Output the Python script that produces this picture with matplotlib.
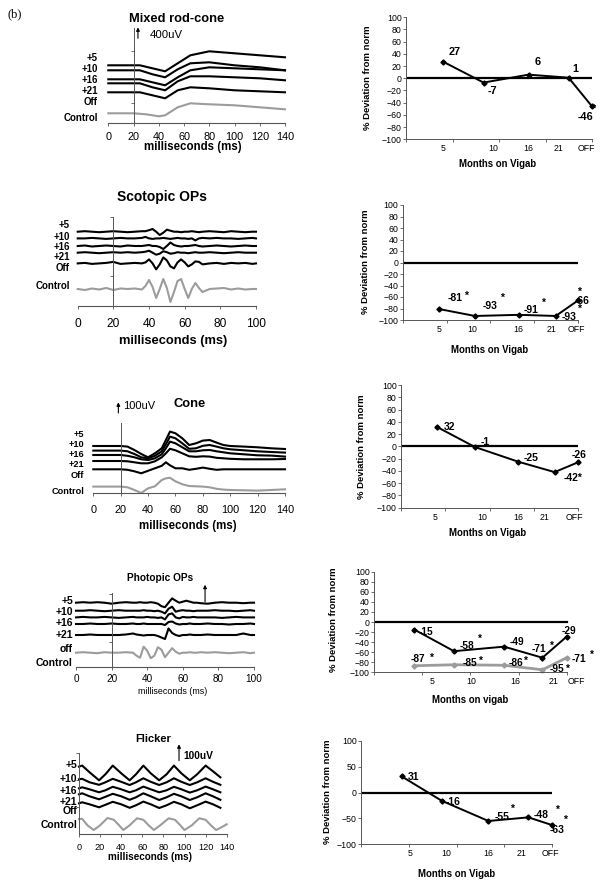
import numpy as np
import matplotlib
matplotlib.use("Agg")
import matplotlib.pyplot as plt

W, H = 604, 886
plt.rcParams['font.family'] = ['Liberation Sans', 'DejaVu Sans']
GREY = '#9c9c9c'
AX = '#555555'

# ---------------- left column: ERG traces (heights in px above the time axis) --------------
trace_labels = ['+5', '+10', '+16', '+21', 'Off', 'Control']

# Mixed rod-cone
mix_t = [0, 25, 35, 45, 55, 65, 80, 100, 120, 140]
mix_p5 = [58, 58, 55, 52, 60, 68, 72, 70, 68, 66]
mix_p10 = [53, 53, 49, 46, 54, 60, 61, 58, 56, 53]
mix_p16 = [44, 44, 41, 38, 46, 53, 56, 55, 54, 53]
mix_p21 = [40, 40, 36, 33, 42, 47, 47, 46, 45, 43]
mix_off = [31, 31, 28, 25, 33, 36, 35, 33, 32, 31]
mix_ctrl_t = [0, 20, 30, 40, 45, 50, 55, 65, 80, 100, 120, 140]
mix_ctrl = [10, 10, 9, 7, 8, 12, 16, 20, 19, 18, 16, 14]

# Scotopic OPs (baseline + deflection)
sop_t = [0, 4, 8, 12, 16, 20, 24, 28, 32, 36,
         38, 40, 42, 44, 46, 48, 50, 52, 54, 56, 58, 60, 62, 64, 66, 68, 70,
         74, 78, 82, 86, 90, 94, 98, 100]
sop_base = [74, 67.3, 59.7, 53, 42.3, 16.7]
sop_p5 = [0, 0.5, 0, -0.5, 0, 0.5, 0, -0.5, 0, 0.5,
          0.5, 1.5, 2.7, 0, -3.3, -1, 2, 1, 0, 0, -0.5, 0, 0, 0.5, 0, -0.5, 0,
          0.5, 0, -0.5, 0.5, 0, -0.5, 0, 0]
sop_p10 = [0, 0, 0.5, 0, -0.5, 0, 0.5, 0, 0, 0.5,
           1.5, 0, -0.5, 0, 0, 0.5, 0, -0.5, 0, 0.5, 0, 0, -0.5, 0, -2, 0, 0.5,
           0, 0.5, 0, 0, -0.5, 0, 0.5, 0]
sop_p16 = [0, 0.5, -0.5, 0, 0.5, 0, -0.5, 0.5, 0, 0,
           0.5, 1, 0, 0, -1, -3, 0, 3.5, 1, 0, -0.5, 0, 0, 0.5, 1, 0, -0.5,
           0, 0.5, 0, -0.5, 0, 0.5, 0, 0]
sop_p21 = [0, 0.5, 0, -0.5, 0, 0.5, 0, 0.5, 0, 0.5,
           1, 2, 0, -2, -1, 1.5, 0.5, -1, -0.5, 0.5, 0, 0, -0.5, 0, 0.5, 0, 0,
           0.5, 0, -0.5, 0, 0.5, 0, 0, 0]
sop_off = [0, 0.5, -0.5, 0, 0.5, 1.5, -0.5, 0, 0.5, 0,
           1, 4, 0, -6, -1, 6, 3, -3, -5, 1, 4, 1, -3, -1, 2, 1.5, -1,
           0, 0.5, -0.5, 0.5, 0, 0.5, -0.5, 0]
sop_ctrl = [0, -1, 0.5, -0.5, 1, -1, 0.5, 0, 0.5, -0.5,
            3, 9, 2, -9, 0, 10, 1, -13, -3, 8, 10, 0, -9, 0, 6, 1, -3,
            0, 0.5, 1, -0.5, 0.5, -0.5, 0, 0]

# Cone
cone_t = [0, 10, 20, 25, 30, 35, 40, 45, 50, 53, 56, 60, 65, 70, 75, 80, 85, 90, 95, 100, 110, 120, 130, 140]
cone_p5 = [47.3, 47.3, 47.3, 46.7, 43.3, 39.3, 36, 40, 45, 53.3, 61.7, 60, 55, 48.3, 50, 52.7, 53.3, 50.7, 48.3, 47.3, 46.7, 46, 45, 44.3]
cone_p10 = [42.7, 42.7, 42.7, 42, 39.3, 36, 35, 37.5, 42, 49, 56.7, 55, 50, 44.5, 45, 47.5, 48.3, 46.7, 45, 44, 43, 42, 41.3, 40.7]
cone_p16 = [38.3, 38.3, 38.3, 37.5, 36, 34, 33.3, 35, 39, 45, 51.7, 50, 46, 42, 42, 43, 43.3, 42, 41, 40, 39, 38, 37.7, 36.7]
cone_p21 = [32.3, 32.3, 32.3, 32, 31, 30, 30, 32, 36, 40, 44.5, 43, 40, 37, 36.5, 37, 36.7, 35.5, 35, 34.5, 34, 34, 34, 34.3]
cone_off = [24, 24, 24, 23.5, 22, 20, 22.5, 25, 27.5, 31, 28, 25, 25, 23.5, 24.5, 25.7, 24.5, 23.5, 24, 24, 24, 24, 24, 24]
cone_ctrl = [6.7, 6.7, 6.7, 6, 3.3, 0.3, 5, 7, 13.3, 15, 15.5, 12, 9, 7.3, 7, 6.7, 6, 4.5, 3.7, 3.3, 3, 2.7, 3.3, 4]

# Photopic OPs (baseline + deflection)
pop_t = [0, 4, 8, 12, 16, 20, 24, 28, 32,
         34, 36, 38, 40, 42, 44, 46, 48, 50, 52, 54, 56, 58, 60, 62, 64, 66, 68, 70,
         74, 78, 82, 86, 90, 94, 98, 100]
pop_base = [64, 56, 49.3, 42.7, 31.7, 14]
pop_p5 = [0, 0.5, 0, 0.5, 0, -1, 0, 0.5, 0,
          0, 0.5, 0, 0, 0.5, 0, -1, -3.5, -4.5, 0, 4.3, 2, 0, 1, 2, 1, 0, 0, -0.5,
          -1, 0, 0.5, 0, 0, -0.5, 0, 0]
pop_p10 = [0, 0, 0.5, 0, -0.5, 0, 0.5, 0, 0,
           0, 0, 0.5, 0, 0, -0.5, 0, -1, -2.7, 2, 4, -1, 0, 0.5, 0, 0, -0.5, 0, 0,
           0, 0.5, 0, 0, -0.5, 0, 0.5, 0]
pop_p16 = [0, 0.5, 0, 0, 0.5, 0, -0.5, 0, 0.5,
           0, 0, 0, 0.5, 0, 0, -0.5, 0, -2, 3, 4, 0, -1, 0.5, 0, 0, 0.5, 0, 0,
           0, 0, -0.5, 0, 0.5, 0, 0, 0]
pop_p21 = [0, 0, 0.5, 0, 0, 0.5, 0, 0, 0.5,
           0, 0, 0.5, 0, 0, 0, 0, 0, -1, 2, 2.5, 0.5, -0.5, 0, 0, 0.5, 0, 0, 0,
           0.5, 0, 0, -0.5, 0, 0, 0.5, 0]
pop_off = [0, 0, 0.5, 0, 0, 0, 0, 0.5, 1.5,
           0.5, 0, -0.5, 0, 0, 0, -1, -2.5, -4, 6.5, 2, 0, -1, 0, 0, 0.5, 0, 0, 0,
           0.5, 0, 0, 0, 0, 1.5, 0, 0]
pop_ctrl = [0, 0.5, 0, -0.5, 0.5, 0, 0, 0.5, 0,
            -3, -5, 6, 2, -5.5, -3, 5.5, 3, -4.5, 0, 4.5, 1, -1, 0, 0, 0.5, 0, 0, 0.5,
            0, 0.5, 0, -0.5, 0, 0.5, -0.5, 0]
pop_labels = ['+5', '+10', '+16', '+21', 'off', 'Control']

# Flicker
fl_t = [0, 3, 10, 19, 25, 32, 40, 48, 54, 61, 68, 76, 83, 90, 97, 105, 112, 120, 127, 134]
fl_p5 = [67.7, 68.7, 62, 54, 60, 68.7, 61, 54, 60, 68.7, 61, 54, 60, 68.7, 61, 54, 60, 68.7, 63, 57]
fl_p10 = [55, 55.5, 52, 49.5, 52, 55.5, 52.5, 49.3, 52, 56, 52.5, 49.3, 52, 56, 52.5, 49.3, 52, 56, 52.5, 49.5]
fl_p16 = [46, 47, 45, 42, 44, 47.5, 45, 42, 44, 47.7, 45, 42, 44, 47.5, 45, 41.7, 44, 47.7, 45, 42]
fl_p21 = [40, 41, 38, 35, 37.5, 40.5, 38, 34.5, 37, 41, 38, 34.3, 37, 40.5, 38, 34.3, 37, 41, 38, 34.5]
fl_off = [31, 32, 30, 27, 29.5, 32.5, 30, 26.5, 29, 32.7, 30, 26.3, 29, 32.5, 30, 26, 29, 32.7, 30, 26.5]
fl_ctrl_t = [0, 3, 8, 14, 20, 27, 33, 38, 42, 48, 55, 61, 66, 71, 77, 85, 91, 96, 100, 107, 114, 120, 125, 130, 135, 140]
fl_ctrl = [15.3, 15.5, 9, 4.3, 9, 16.3, 14.5, 9, 4.3, 9, 16, 14.5, 9, 4.3, 9, 16, 14.5, 9, 4.3, 9, 16, 14.5, 9, 4.3, 7, 10]

# ---------------- right column: % deviation from norm --------------
months = ['5', '10', '16', '21', 'OFF']

r1_x = [20.1, 41.7, 65.9, 87.4, 100]
r1_y = [27, -7, 6, 1, -46]
r1_lblx = [20, 47, 66, 82, 97]
r1_notes = [('27', 26.4, 43.7), ('-7', 46.7, -20.2), ('6', 70.9, 26.2), ('1', 91, 14.8),
            ('-46', 96.4, -62.8), ('*', 100.9, -50.8)]

r2_x = [20.9, 41.2, 66.4, 87.3, 100]
r2_y = [-81, -93, -91, -93, -66]
r2_lblx = [20.9, 39.8, 65.8, 84.8, 99]
r2_notes = [('-81', 29.8, -62.3), ('*', 36.1, -57.7), ('-93', 49.7, -75.7), ('*', 56.9, -62.3),
            ('-91', 73.4, -82.6), ('*', 80.1, -69.3), ('-93', 94.9, -94.2), ('-66', 102.5, -66.4),
            ('*', 100.6, -51.9), ('*', 100.6, -80.9)]

r3_x = [20.1, 41.7, 66.2, 86.8, 100]
r3_y = [32, -1, -25, -42, -26]
r3_lblx = [19.5, 46.1, 66.2, 81.2, 98.1]
r3_notes = [('32', 27.6, 32.1), ('-1', 47.4, 7.6), ('-25', 73.7, -18.5), ('-26', 100.6, -14.1),
            ('-42*', 97.2, -52.2)]

r4_x = [20.9, 41.5, 67.5, 87.4, 100]
r4_black = [-15, -58, -49, -71, -29]
r4_grey = [-87, -85, -86, -95, -71]
r4_lblx = [29.9, 50.7, 73.2, 93.1, 105.2]
r4_notes = [('-15', 27, -19.2), ('-58', 48.1, -47.7), ('*', 55, -32.5), ('-49', 74, -39.1),
            ('-71', 85.8, -53.6), ('*', 92.2, -47.7), ('-29', 101.4, -17.2),
            ('-87', 23, -74.2), ('*', 30.3, -72.2), ('-85', 49.8, -82.1), ('*', 55.4, -76.8),
            ('-86', 73.7, -80.8), ('*', 78.9, -76.8), ('-95', 94.8, -94), ('*', 100.9, -94),
            ('-71', 106.1, -74.2), ('*', 113.3, -65.6)]

r5_x = [21.3, 42.2, 66.6, 87.5, 100]
r5_y = [31, -16, -55, -48, -63]
r5_lblx = [25.6, 44.8, 66.6, 84.0, 98.8]
r5_notes = [('31', 27.4, 30.5), ('-16', 48.3, -17.7), ('-55', 73.5, -47.9), ('*', 78.7, -32.5),
            ('-48', 93.9, -43.4), ('*', 102.6, -33.8), ('-63', 102.3, -72), ('*', 106.5, -53.5)]

fig = plt.figure(figsize=(W / 100, H / 100), dpi=100)


def add_ax(x0, x1, ytop, ybot):
    return fig.add_axes([x0 / W, 1 - ybot / H, (x1 - x0) / W, (ybot - ytop) / H])


def ftext(x, y, s, **kw):
    kw.setdefault('va', 'center')
    fig.text(x / W, 1 - y / H, s, **kw)


def trace_panel(x0, x1, ytop, ybot, xmax, spine_x, traces, yt, tick_fs, tick_pad):
    ax = add_ax(x0, x1, ytop, ybot)
    ax.set_xlim(0, xmax)
    ax.set_ylim(0, ybot - ytop)
    for t, v, c in traces:
        ax.plot(t, v, color=c, lw=1.5, clip_on=False, solid_joinstyle='round')
    for s in ['top', 'right']:
        ax.spines[s].set_visible(False)
    ax.spines['left'].set_position(('data', spine_x))
    ax.spines['left'].set_color(AX)
    ax.spines['bottom'].set_color(AX)
    ax.spines['left'].set_linewidth(0.7)
    ax.spines['bottom'].set_linewidth(0.8)
    ax.set_yticks(yt)
    ax.set_yticklabels([])
    ax.set_xticks(np.arange(0, xmax + 1, 20))
    ax.tick_params(axis='both', direction='out', length=2, width=0.6, color=AX,
                   labelsize=tick_fs, pad=tick_pad)
    ax.patch.set_alpha(0)
    return ax


def arrow(ax, x, y0, y1):
    ax.annotate('', xy=(x, y1), xytext=(x, y0), annotation_clip=False,
                arrowprops=dict(arrowstyle='-|>', lw=0.8, color='k', mutation_scale=5,
                                shrinkA=0, shrinkB=0))


def labels(x, ys, names, fs=7):
    for y, n in zip(ys, names):
        ftext(x, y, n, ha='right', fontsize=fs, fontweight='bold')


def dev_panel(x0, x1, ytop, ybot, xmax, series, lblx, notes, ystep=20, fs=6.3, nfs=7.5):
    ax = add_ax(x0, x1, ytop, ybot)
    ax.set_xlim(0, xmax)
    ax.set_ylim(-100, 100)
    ax.axhline(0, xmin=0, xmax=100 / xmax, color='k', lw=1.6)
    for xs, ys, c, lw in series:
        ax.plot(xs, ys, color=c, lw=lw, marker='D', ms=2.6, clip_on=False)
    for s in ['top', 'right']:
        ax.spines[s].set_visible(False)
    ax.spines['bottom'].set_bounds(0, 100)
    for s in ['left', 'bottom']:
        ax.spines[s].set_color(AX)
        ax.spines[s].set_linewidth(0.7)
    ax.set_yticks(np.arange(-100, 101, ystep))
    ax.set_xticks(lblx)
    ax.set_xticklabels(months)
    ax.set_xticks([0, 25, 50, 75, 100], minor=True)
    ax.tick_params(axis='y', direction='out', length=2, width=0.6, color=AX, labelsize=fs, pad=1.2)
    ax.tick_params(axis='x', which='major', length=0, labelsize=fs, pad=3.5)
    ax.tick_params(axis='x', which='minor', direction='out', length=2, width=0.6, color=AX)
    for s, x, y in notes:
        ax.text(x, y, s, fontsize=nfs, fontweight='bold', ha='center', va='center')
    ax.patch.set_alpha(0)
    return ax


# ---------------- Mixed rod-cone ----------------
ax = trace_panel(108.3, 285, 28.3, 123.3, 140, 20,
                 [(mix_t, mix_p5, 'k'), (mix_t, mix_p10, 'k'), (mix_t, mix_p16, 'k'),
                  (mix_t, mix_p21, 'k'), (mix_t, mix_off, 'k'), (mix_ctrl_t, mix_ctrl, GREY)],
                 [20, 72], 7.8, 4)
arrow(ax, 23.5, 85, 96)
ftext(150, 35, '400uV', fontsize=8.2)
ftext(177, 19, 'Mixed rod-cone', ha='center', fontsize=9.3, fontweight='bold')
ftext(193, 147, 'milliseconds (ms)', ha='center', fontsize=8.3, fontweight='bold')
labels(98, [58, 69, 80, 91, 102, 118], trace_labels)
ftext(8, 14, '(b)', fontsize=9, family='Liberation Serif')

# ---------------- Scotopic OPs ----------------
ax = trace_panel(77.7, 256, 216.7, 305.7, 100, 20,
                 [(sop_t, np.add(b, d), c) for b, d, c in
                  zip(sop_base, [sop_p5, sop_p10, sop_p16, sop_p21, sop_off, sop_ctrl],
                      ['k'] * 5 + [GREY])],
                 [30, 89], 8.6, 6.5)
ftext(162, 196.7, 'Scotopic OPs', ha='center', fontsize=10, fontweight='bold')
ftext(173, 340.7, 'milliseconds (ms)', ha='center', fontsize=9.3, fontweight='bold')
labels(70, [225, 236.7, 246.7, 257.3, 268.3, 286], trace_labels)

# ---------------- Cone ----------------
ax = trace_panel(93.3, 285, 423.3, 493.3, 140, 20,
                 [(cone_t, cone_p5, 'k'), (cone_t, cone_p10, 'k'), (cone_t, cone_p16, 'k'),
                  (cone_t, cone_p21, 'k'), (cone_t, cone_off, 'k'), (cone_t, cone_ctrl, GREY)],
                 [], 7.8, 6.5)
arrow(ax, 18.3, 80.3, 91)
ftext(123, 406, '100uV', fontsize=8)
ftext(190, 404, 'Cone', ha='center', fontsize=9.3, fontweight='bold')
ftext(188, 525.7, 'milliseconds (ms)', ha='center', fontsize=8.3, fontweight='bold')
labels(84, [434.5, 444.5, 454, 464.5, 475, 491.7], trace_labels, fs=6.6)

# ---------------- Photopic OPs ----------------
ax = trace_panel(76, 254, 593.3, 666.7, 100, 20,
                 [(pop_t, np.add(b, d), c) for b, d, c in
                  zip(pop_base, [pop_p5, pop_p10, pop_p16, pop_p21, pop_off, pop_ctrl],
                      ['k'] * 5 + [GREY])],
                 [25, 73], 7.2, 3.5)
arrow(ax, 72.5, 65, 82)
ftext(160, 578, 'Photopic OPs', ha='center', fontsize=7.3, fontweight='bold')
ftext(172.7, 691.7, 'milliseconds (ms)', ha='center', fontsize=6.4)
labels(73, [600.7, 611.7, 623.3, 635, 649, 663.3], pop_labels, fs=7.5)

# ---------------- Flicker ----------------
ax = trace_panel(79, 226.7, 753.3, 834.3, 140, 0,
                 [(fl_t, fl_p5, 'k'), (fl_t, fl_p10, 'k'), (fl_t, fl_p16, 'k'),
                  (fl_t, fl_p21, 'k'), (fl_t, fl_off, 'k'), (fl_ctrl_t, fl_ctrl, GREY)],
                 [27.7, 54.3, 81], 6.6, 4)
arrow(ax, 94.8, 73.7, 90)
ftext(183, 756, '100uV', fontsize=7.3, fontweight='bold')
ftext(153, 739, 'Flicker', ha='center', fontsize=8, fontweight='bold')
ftext(150, 857.3, 'milliseconds (ms)', ha='center', fontsize=7.1, fontweight='bold')
labels(77, [765, 778.7, 791.3, 802, 811, 824.7], trace_labels, fs=7.5)

# ---------------- right column ----------------
ylab = '% Deviation from norm'

dev_panel(406, 592, 17.3, 139.3, 100, [(r1_x, r1_y, 'k', 1.4)], r1_lblx, r1_notes, nfs=7.8)
ftext(368, 78, ylab, ha='center', rotation=90, fontsize=6.8, fontweight='bold')
ftext(498, 164, 'Months on Vigab', ha='center', fontsize=6.9, fontweight='bold')

dev_panel(402.7, 578, 205, 320, 100, [(r2_x, r2_y, 'k', 1.4)], r2_lblx, r2_notes)
ftext(366, 262, ylab, ha='center', rotation=90, fontsize=6.8, fontweight='bold')
ftext(490, 350, 'Months on Vigab', ha='center', fontsize=6.9, fontweight='bold')

dev_panel(401, 578, 385, 507.7, 100, [(r3_x, r3_y, 'k', 1.4)], r3_lblx, r3_notes)
ftext(361, 446.7, ylab, ha='center', rotation=90, fontsize=6.8, fontweight='bold')
ftext(488, 533, 'Months on Vigab', ha='center', fontsize=6.9, fontweight='bold')

dev_panel(374, 374 + 118 * 1.927, 571.7, 672.3, 118,
          [(r4_x, r4_grey, GREY, 2.0), (r4_x, r4_black, 'k', 1.4)], r4_lblx, r4_notes, nfs=7.3)
ftext(333, 620, ylab, ha='center', rotation=90, fontsize=6.8, fontweight='bold')
ftext(470, 700, 'Months on vigab', ha='center', fontsize=6.9, fontweight='bold')

dev_panel(361, 552.3, 740.7, 844.3, 100, [(r5_x, r5_y, 'k', 1.4)], r5_lblx, r5_notes, ystep=50)
ftext(328, 792, ylab, ha='center', rotation=90, fontsize=6.8, fontweight='bold')
ftext(457, 874, 'Months on Vigab', ha='center', fontsize=6.9, fontweight='bold')

fig.savefig('out.png', dpi=100)
